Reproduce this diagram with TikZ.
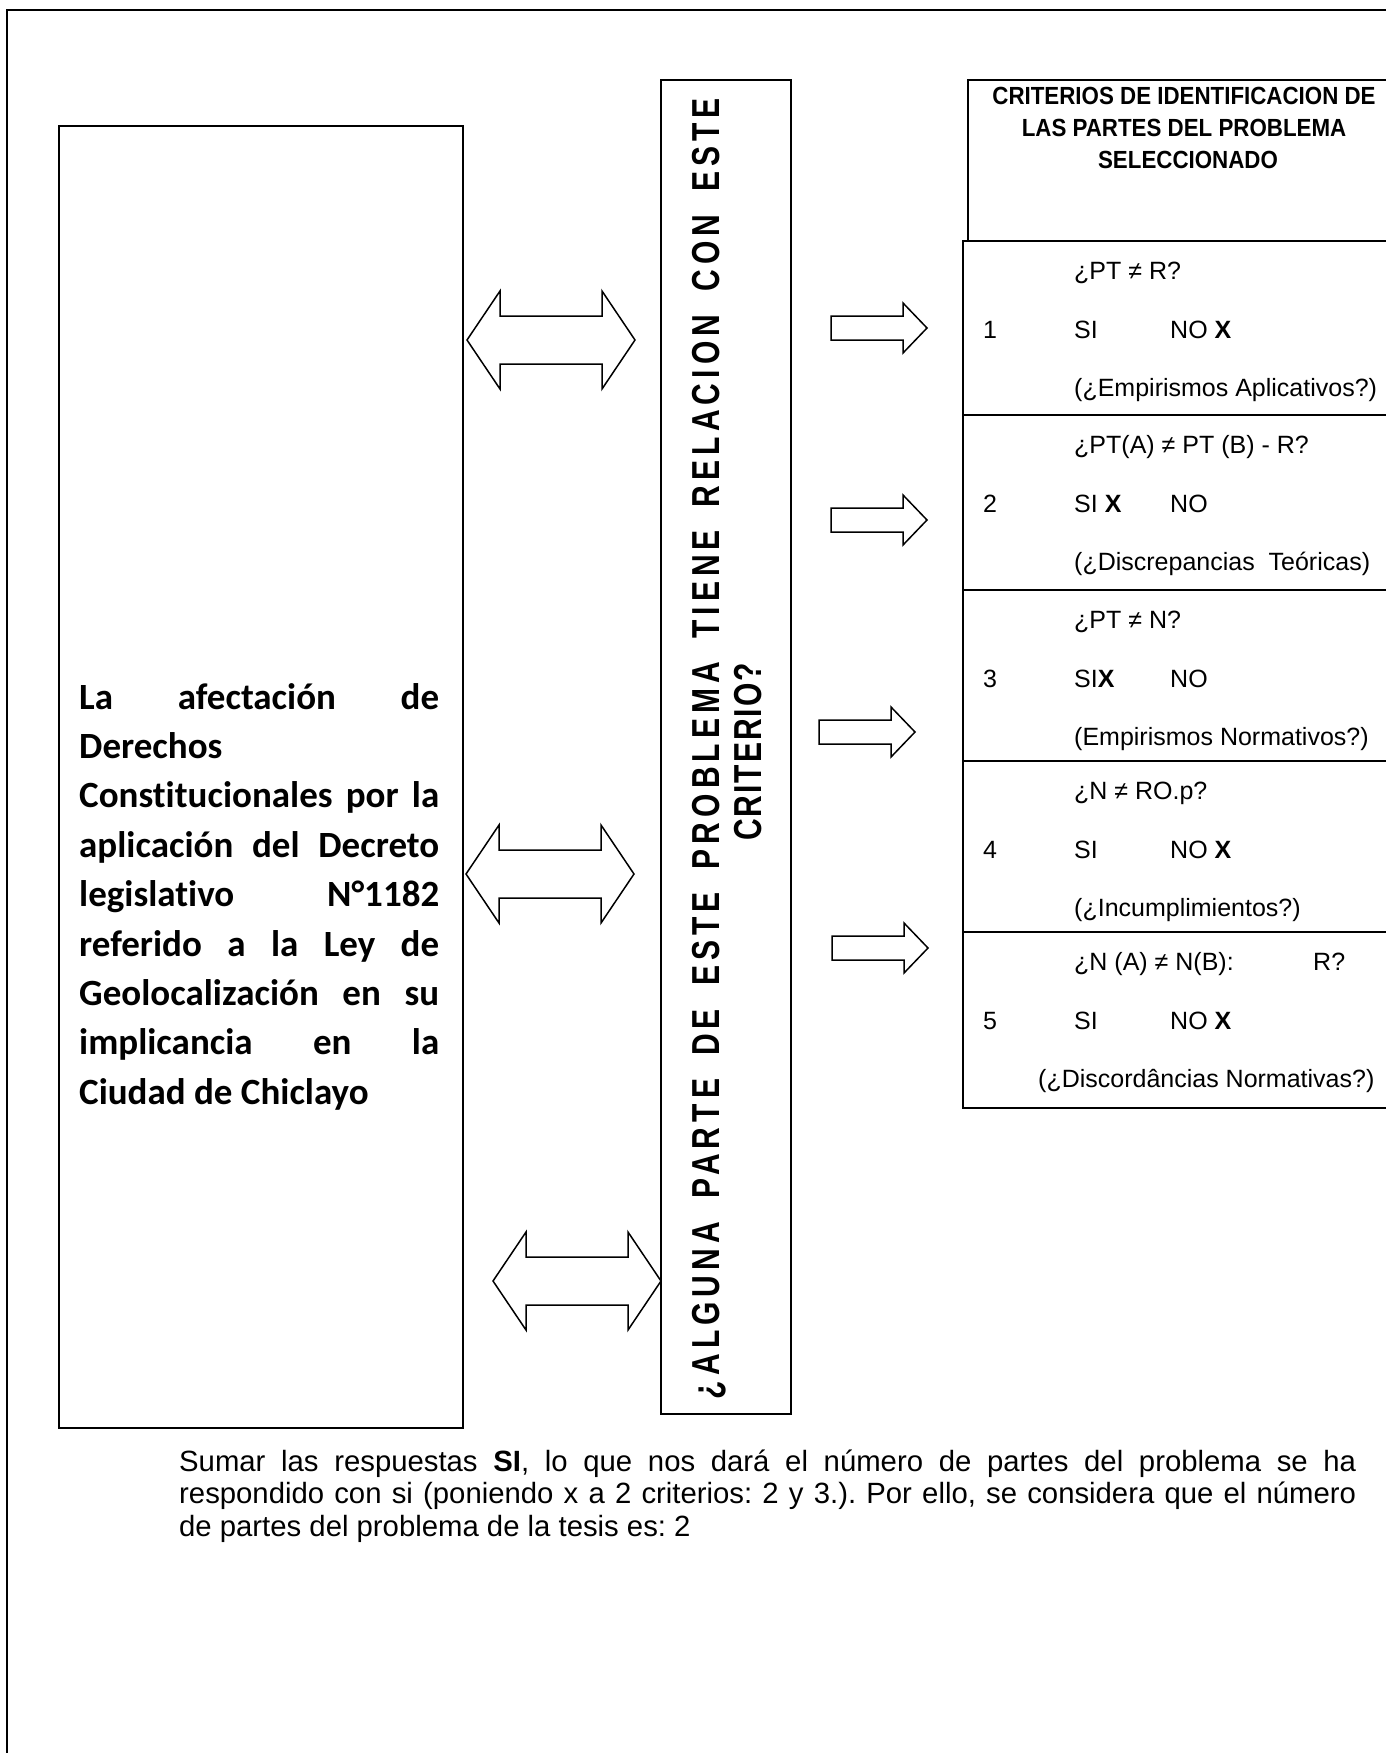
\documentclass[tikz,border=0pt]{standalone}
\usepackage{fontspec}
\setmainfont{Liberation Sans}
\newfontfamily\calib[Ligatures=NoCommon]{Carlito}
\newfontfamily\vfont[FakeStretch=0.77,LetterSpace=5]{Liberation Sans}
\newfontfamily\vfontw[FakeStretch=0.77,LetterSpace=13]{Liberation Sans}
\newfontfamily\hdrfont[FakeStretch=0.9]{Liberation Sans}
\begin{document}
\frenchspacing
\begin{tikzpicture}[x=1pt,y=-1pt]
\tikzset{
  frame/.style={draw, line width=1.6pt},
  box/.style={draw, line width=2pt, inner sep=0pt, anchor=north west},
  arrowline/.style={draw, line width=1.5pt, line join=miter},
  rowtxt/.style={anchor=base west, inner sep=0pt, font=\fontsize{25}{29}\selectfont},
  numtxt/.style={anchor=base, inner sep=0pt, font=\fontsize{25}{29}\selectfont},
  lefttxt/.style={anchor=base west, inner sep=0pt, font=\calib\bfseries\fontsize{37}{44}\selectfont},
  vtxt/.style={rotate=90, anchor=base, inner sep=0pt, font=\vfont\bfseries\fontsize{39}{45}\selectfont},
  vtxtw/.style={rotate=90, anchor=base, inner sep=0pt, font=\vfontw\bfseries\fontsize{39}{45}\selectfont},
  hdr/.style={anchor=base, inner sep=0pt, font=\hdrfont\bfseries\fontsize{24.8}{28}\selectfont},
  bottxt/.style={anchor=base west, inner sep=0pt, font=\fontsize{29.3}{33}\selectfont},
  dbl/.pic={\draw[arrowline] (-84,0) -- (-51,-49) -- (-51,-24) -- (51,-24) -- (51,-49) -- (84,0) -- (51,49) -- (51,24) -- (-51,24) -- (-51,49) -- cycle;},
  sgl/.pic={\draw[arrowline] (-48,-12) -- (24,-12) -- (24,-25) -- (48,0) -- (24,25) -- (24,12) -- (-48,12) -- cycle;}
}
\useasboundingbox (0,0) rectangle (1386,1753);
\clip (0,0) rectangle (1386,1753);

% outer frame
\draw[frame] (7,10) rectangle (1450,1800);

% boxes
\node[box, minimum width=403.6pt, minimum height=1302pt] (leftbox) at (58,125) {};
\node[box, minimum width=130pt, minimum height=1334pt] (midbox) at (660,79) {};
\node[box, minimum width=440pt, minimum height=161pt] (hdrbox) at (967,79) {};
\node[box, minimum width=450pt, minimum height=174pt] (row1) at (962,240) {};
\node[box, minimum width=450pt, minimum height=175pt] (row2) at (962,414) {};
\node[box, minimum width=450pt, minimum height=171pt] (row3) at (962,589) {};
\node[box, minimum width=450pt, minimum height=171pt] (row4) at (962,760) {};
\node[box, minimum width=450pt, minimum height=176pt] (row5) at (962,931) {};

% header text
\node[hdr] (h1) at (1184,104.5) {CRITERIOS DE IDENTIFICACION DE};
\node[hdr] (h2) at (1184,136.5) {LAS PARTES DEL PROBLEMA};
\node[hdr] (h3) at (1188,168.5) {SELECCIONADO};

% row 1
\node[rowtxt] (r1a) at (1074,279) {¿PT ≠ R?};
\node[numtxt] (r1n) at (990,338) {1};
\node[rowtxt] (r1s) at (1074,338) {SI};
\node[rowtxt] (r1o) at (1170,338) {NO \textbf{X}};
\node[rowtxt] (r1c) at (1074,396) {(¿Empirismos Aplicativos?)};
% row 2
\node[rowtxt] (r2a) at (1074,453) {¿PT(A) ≠ PT (B) - R?};
\node[numtxt] (r2n) at (990,512) {2};
\node[rowtxt] (r2s) at (1074,512) {SI \textbf{X}};
\node[rowtxt] (r2o) at (1170,512) {NO};
\node[rowtxt] (r2c) at (1074,570) {(¿Discrepancias\ \ Teóricas)};
% row 3
\node[rowtxt] (r3a) at (1074,628) {¿PT ≠ N?};
\node[numtxt] (r3n) at (990,687) {3};
\node[rowtxt] (r3s) at (1074,687) {SI\textbf{X}};
\node[rowtxt] (r3o) at (1170,687) {NO};
\node[rowtxt] (r3c) at (1074,745) {(Empirismos Normativos?)};
% row 4
\node[rowtxt] (r4a) at (1074,799) {¿N ≠ RO.p?};
\node[numtxt] (r4n) at (990,858) {4};
\node[rowtxt] (r4s) at (1074,858) {SI};
\node[rowtxt] (r4o) at (1170,858) {NO \textbf{X}};
\node[rowtxt] (r4c) at (1074,916) {(¿Incumplimientos?)};
% row 5
\node[rowtxt] (r5a) at (1074,970) {¿N (A) ≠ N(B):};
\node[rowtxt] (r5b) at (1313,970) {R?};
\node[numtxt] (r5n) at (990,1029) {5};
\node[rowtxt] (r5s) at (1074,1029) {SI};
\node[rowtxt] (r5o) at (1170,1029) {NO \textbf{X}};
\node[rowtxt] (r5c) at (1038,1087) {(¿Discordâncias Normativas?)};

% left box text
\node[lefttxt] (l1) at (79,709) {\makebox[360pt][s]{La afectación de}};
\node[lefttxt] (l2) at (79,758.4) {Derechos};
\node[lefttxt] (l3) at (79,807.8) {\makebox[360pt][s]{Constitucionales por la}};
\node[lefttxt] (l4) at (79,857.2) {\makebox[360pt][s]{aplicación del Decreto}};
\node[lefttxt] (l5) at (79,906.6) {\makebox[360pt][s]{legislativo N°1182}};
\node[lefttxt] (l6) at (79,956) {\makebox[360pt][s]{referido a la Ley de}};
\node[lefttxt] (l7) at (79,1005.4) {\makebox[360pt][s]{Geolocalización en su}};
\node[lefttxt] (l8) at (79,1054.8) {\makebox[360pt][s]{implicancia en la}};
\node[lefttxt] (l9) at (79,1104.2) {Ciudad de Chiclayo};

% vertical text
\node[vtxtw] (v1) at (719,748.5) {\makebox[1301pt][s]{¿ALGUNA PARTE DE ESTE PROBLEMA TIENE RELACION CON ESTE}};
\node[vtxt] (v2) at (761,752) {CRITERIO?};

% arrows
\pic at (551,340) {dbl};
\pic at (550,874) {dbl};
\pic at (577,1281) {dbl};
\pic at (879,328) {sgl};
\pic at (879,520) {sgl};
\pic at (867,732) {sgl};
\pic at (880,948) {sgl};

% bottom paragraph
\node[bottxt] (b1) at (179,1471) {\makebox[1177pt][s]{Sumar las respuestas \textbf{SI}, lo que nos dará el número de partes del problema se ha}};
\node[bottxt] (b2) at (179,1503.5) {\makebox[1177pt][s]{respondido con si (poniendo x a 2 criterios: 2 y 3.). Por ello, se considera que el número}};
\node[bottxt] (b3) at (179,1536) {de partes del problema de la tesis es: 2};
\end{tikzpicture}
\end{document}
